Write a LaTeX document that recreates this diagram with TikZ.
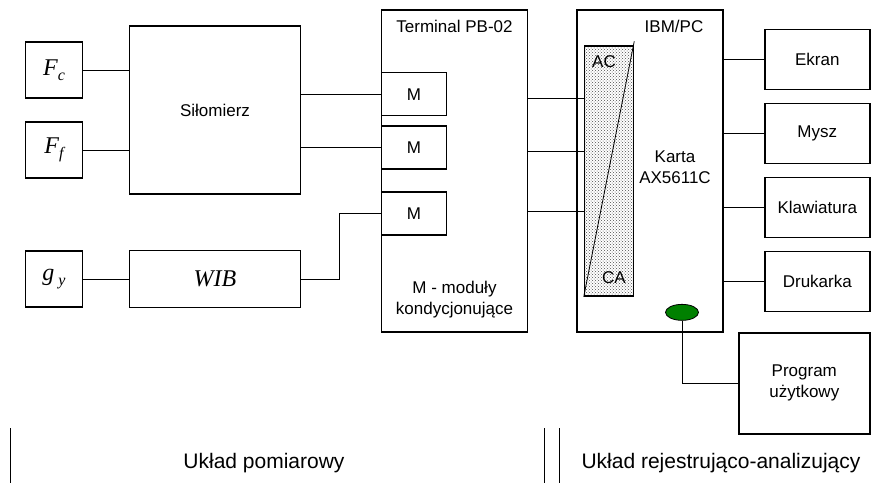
\documentclass[tikz,border=0pt]{standalone}
\usepackage{fontspec}
\setmainfont{Liberation Sans}
\newfontfamily\timesfont{Liberation Serif}
\usetikzlibrary{positioning,patterns,calc,shapes.geometric}

\begin{document}
\begin{tikzpicture}[x=1pt,y=-1pt]
	\tikzstyle{blok} = [draw, line width=1.5pt, inner sep=0pt, align=center, font=\fontsize{17}{21}\selectfont];
	\tikzstyle{wej} = [blok, minimum width=57pt, minimum height=56pt, font=\fontsize{24}{24}\timesfont\itshape];
	\tikzstyle{modul} = [blok, minimum width=65pt, minimum height=43pt];
	\tikzstyle{urz} = [blok, minimum width=105pt, minimum height=60pt];
	\tikzstyle{opis} = [inner sep=0pt, align=center, font=\fontsize{17}{21}\selectfont];
	\tikzstyle{lacze} = [line width=0.8pt];
	\useasboundingbox (0,0) rectangle (875,483);
	% uklad pomiarowy
	\node[wej](fc) at (54,70) {F\raisebox{-5pt}{\fontsize{16}{16}\selectfont c}};
	\node[wej](ff) at (54,150) {F\raisebox{-5pt}{\fontsize{16}{16}\selectfont f}};
	\node[wej](gy) at (54,279) {g\,\raisebox{-5pt}{\fontsize{16}{16}\selectfont y}};
	\node[blok, minimum width=171pt, minimum height=168pt](silomierz) at (215,110) {Siłomierz};
	\node[blok, minimum width=171pt, minimum height=57pt, font=\fontsize{24}{24}\timesfont\itshape](wib) at (215,279) {WIB};
	\node[blok, minimum width=146pt, minimum height=322pt](terminal) at (454.5,171) {};
	\node[opis, below=11pt of terminal.north](termtyt) {Terminal PB-02};
	\node[modul, below right=62.7pt and 0pt of terminal.north west](m1) {M};
	\node[modul, below=9pt of m1](m2) {M};
	\node[modul, below=21.5pt of m2](m3) {M};
	\node[opis, above=15pt of terminal.south](modtyt) {M - moduły\\kondycjonujące};
	% uklad rejestrujaco-analizujacy
	\node[blok, minimum width=146pt, minimum height=322pt, right=48pt of terminal](ibm) {};
	\node[opis, below=11pt of ibm.north, xshift=24pt](ibmtyt) {IBM/PC};
	\node[draw, line width=1.5pt, pattern=crosshatch dots, pattern color=black!70, minimum width=49pt, minimum height=250pt, inner sep=0pt, below right=36pt and 7.5pt of ibm.north west](karta) {};
	\node[opis, below=10pt of karta.north, xshift=-5pt](ac) {AC};
	\node[opis, above=13pt of karta.south, xshift=5pt](ca) {CA};
	\node[opis](kartatyt) at ($(ibm.center)+(25,-4)$) {Karta\\AX5611C};
	\node[draw, ellipse, fill=green!50!black, line width=0.8pt, minimum width=33pt, minimum height=16pt, inner sep=0pt, above=12pt of ibm.south, xshift=32pt](port) {};
	\node[urz, below right=19.3pt and 40.3pt of ibm.north east](ekran) {Ekran};
	\node[urz, below=12.5pt of ekran](mysz) {Mysz};
	\node[urz, below=12.5pt of mysz](klaw) {Klawiatura};
	\node[urz, below=12.5pt of klaw](druk) {Drukarka};
	\node[blok, minimum width=131pt, minimum height=101pt, below left=20pt and 0pt of druk.south east](program) {Program\\użytkowy};
	% polaczenia
	\draw[lacze] (fc) -- (fc -| silomierz.west);
	\draw[lacze] (ff) -- (ff -| silomierz.west);
	\draw[lacze] (gy) -- (wib);
	\draw[lacze] (m1.west -| silomierz.east) -- (m1.west);
	\draw[lacze] (m2.west -| silomierz.east) -- (m2.west);
	\draw[lacze] (wib.east) -- ++(38,0) |- (m3.west);
	\foreach \yy in {98,151,211}
		\draw[lacze] (terminal.east |- 0,\yy) -- (karta.west |- 0,\yy);
	\draw[lacze] (karta.south west) -- ($(karta.north east)+(0,-4)$);
	\foreach \n in {ekran,mysz,klaw,druk}
		\draw[lacze] (\n.west -| ibm.east) -- (\n.west);
	\draw[lacze] (port.south) |- (program.west);
	% podzial
	\draw[lacze] (10,428) -- (10,483);
	\draw[lacze] (544,428) -- (544,483);
	\draw[lacze] (559.5,428) -- (559.5,483);
	\node[opis, font=\fontsize{21}{24}\selectfont](pomiar) at (264,463) {Układ pomiarowy};
	\node[opis, font=\fontsize{21}{24}\selectfont](rejestr) at (721,463) {Układ rejestrująco-analizujący};
\end{tikzpicture}
\end{document}
